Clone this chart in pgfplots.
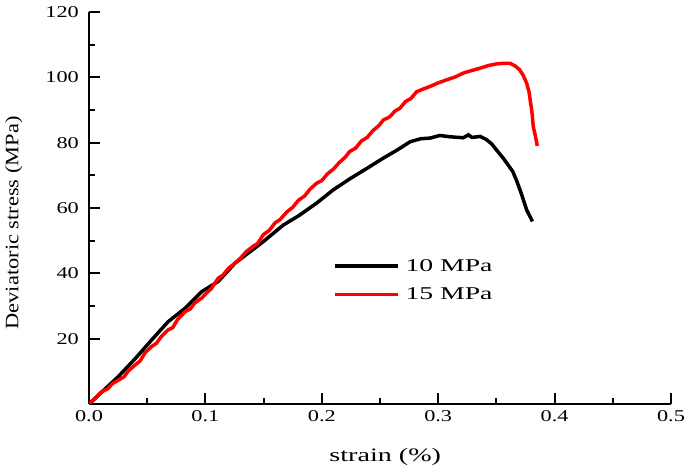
\documentclass[border=0pt]{standalone}
\usepackage{fontspec}
\setmainfont{Liberation Serif}
\usepackage{pgfplots}
\pgfplotsset{compat=1.18}

\begin{document}
\begin{tikzpicture}
\useasboundingbox (-89pt,-64pt) rectangle (596pt,404pt);
\begin{axis}[
    at={(0pt,0pt)}, anchor=south west,
    scale only axis,
    width=582pt, height=392pt,
    xmin=0, xmax=0.5, ymin=0, ymax=120,
    axis lines=left,
    axis line style={-, line width=2pt},
    tick align=inside,
    major tick length=11pt,
    minor tick length=6pt,
    every tick/.style={line width=2pt, black},
    xtick={0,0.1,...,0.5},
    ytick={20,40,...,120},
    minor x tick num=1,
    minor y tick num=1,
    /pgf/number format/assume math mode=true,
    tick label style={font=\fontsize{16.5}{19}\selectfont, xscale=1.35},
    yticklabel style={xshift=-4pt},
    xticklabel style={yshift=-3pt, /pgf/number format/.cd, fixed, fixed zerofill, precision=1},
    xlabel={\scalebox{1.48}[1]{strain (\%)}},
    ylabel={\scalebox{1.18}[1]{Deviatoric stress (MPa)}},
    label style={font=\fontsize{19}{22}\selectfont},
    xlabel style={at={(axis description cs:0.509,-0.146)}, anchor=base, inner sep=0pt},
    ylabel style={at={(axis description cs:-0.129,0.462)}, anchor=center},
    legend style={draw=none, fill=none, inner sep=0pt, at={(axis cs:0.2095,45)}, anchor=north west,
        font=\fontsize{18}{21}\selectfont, row sep=11pt, column sep=4pt},
    legend cell align=left,
    legend image code/.code={\draw[#1] (0pt,0pt) -- (63pt,0pt);},
]
\addplot [black, line width=3.5pt] table {%
x y
0 0
0.0252 8.4
0.04 14.0
0.0538 19.6
0.068 25.2
0.0825 29.3
0.0968 34.4
0.111 37.5
0.1254 43.1
0.1383 46.6
0.1497 49.7
0.167 54.8
0.18 57.6
0.1956 61.5
0.21 65.6
0.224 68.9
0.24 72.4
0.253 75.3
0.265 77.8
0.276 80.3
0.285 81.2
0.293 81.4
0.3015 82.2
0.31 81.8
0.3216 81.5
0.326 82.4
0.329 81.6
0.336 81.9
0.3416 80.9
0.346 79.6
0.350 77.8
0.356 75.2
0.360 73.2
0.364 71.2
0.368 67.8
0.372 63.8
0.376 59.4
0.381 55.9
};
\addlegendentry{\scalebox{1.54}[1]{10 MPa}}
\addplot [red, line width=3.5pt] table {%
x y
0 0
0.005 1.6
0.0109 3.8
0.016 4.6
0.02 6.2
0.0252 7.3
0.03 8.3
0.034 10.2
0.0395 11.9
0.044 13.2
0.048 15.6
0.0538 17.6
0.058 18.6
0.062 20.6
0.068 22.7
0.072 23.4
0.076 25.8
0.0825 28.3
0.087 29.1
0.091 31.0
0.0968 32.4
0.101 34.0
0.105 35.3
0.111 38.5
0.115 39.4
0.12 41.6
0.1254 43.1
0.13 44.6
0.135 46.6
0.14 48.0
0.145 49.2
0.1497 51.8
0.155 53.2
0.160 55.5
0.164 56.4
0.170 58.8
0.175 60.2
0.180 62.4
0.185 63.6
0.190 65.8
0.1956 67.6
0.200 68.4
0.205 70.5
0.210 71.9
0.215 73.9
0.220 75.5
0.224 77.3
0.229 78.3
0.234 80.5
0.239 81.6
0.244 83.7
0.249 85.2
0.253 87.0
0.258 87.8
0.263 89.7
0.267 90.5
0.272 92.6
0.2765 93.5
0.2815 95.6
0.287 96.4
0.293 97.2
0.300 98.3
0.307 99.2
0.3145 100.1
0.3216 101.3
0.328 102.0
0.336 102.8
0.343 103.6
0.350 104.1
0.356 104.3
0.3617 104.3
0.366 103.5
0.370 102.3
0.373 100.6
0.376 98.2
0.378 95.6
0.379 93.1
0.3805 89.5
0.3817 84.9
0.3835 82.0
0.3851 79.0
};
\addlegendentry{\scalebox{1.54}[1]{15 MPa}}
\end{axis}
\end{tikzpicture}
\end{document}
